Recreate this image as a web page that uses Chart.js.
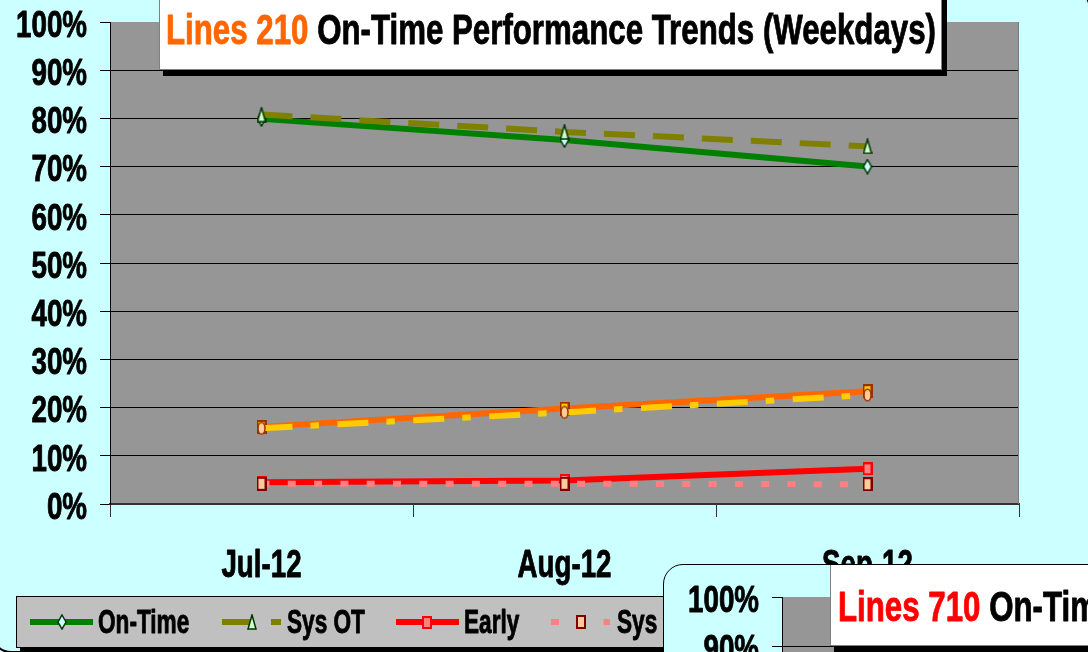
<!DOCTYPE html>
<html><head><meta charset="utf-8">
<script src="https://cdn.jsdelivr.net/npm/chart.js@4.4.1/dist/chart.umd.min.js"></script>
<style>
html,body{margin:0;padding:0;width:1088px;height:652px;overflow:hidden;background:#CCFFFF;}
#frame1{position:absolute;left:-9px;top:-11px;width:1096px;height:660px;border:2px solid #000;border-radius:20px;background:#CCFFFF;}
#c1{position:absolute;left:0;top:0;}
#frame2{position:absolute;left:663px;top:564px;width:1100px;height:700px;border:1px solid #000;border-top-left-radius:20px;background:#CCFFFF;overflow:hidden;}
#c2{position:absolute;left:0;top:0;}
</style></head><body>
<div id="frame1"></div>
<canvas id="c1" width="1088" height="652" style="width:1088px;height:652px"></canvas>
<div id="frame2"><canvas id="c2" width="1100" height="700" style="width:1100px;height:700px"></canvas></div>
<script>
// ---- data ----
const categories = ['Jul-12', 'Aug-12', 'Sep-12'];
const seriesNames = ['On-Time', 'Sys OT', 'Early', 'Sys Early', 'Late', 'Sys Late'];
const onTime   = [79.9, 75.5, 70.0];
const sysOT    = [80.8, 77.2, 74.2];
const early    = [4.5, 4.9, 7.3];
const sysEarly = [4.2, 4.2, 4.1];
const late     = [16.0, 19.8, 23.4];
const sysLate  = [15.7, 19.0, 22.6];
const yTicks = [0, 10, 20, 30, 40, 50, 60, 70, 80, 90, 100];
const yTickLabel = v => v + '%';
const title1Lead = 'Lines 210';
const title2Lead = 'Lines 710';
const titleRest = ' On-Time Performance Trends (Weekdays)';

// ---- helpers ----
const FONT = '"Liberation Sans", Arial, Helvetica, sans-serif';
function drawText(ctx, txt, x, y, size, sx, align, color) {
  ctx.save();
  ctx.font = 'bold ' + size + 'px ' + FONT;
  ctx.fillStyle = color || '#000';
  ctx.strokeStyle = color || '#000';
  ctx.lineWidth = 0.9;
  ctx.lineJoin = 'round';
  ctx.textBaseline = 'alphabetic';
  ctx.textAlign = 'left';
  const w = ctx.measureText(txt).width * sx;
  const x0 = align === 'right' ? x - w : align === 'center' ? x - w / 2 : x;
  ctx.translate(x0, y);
  ctx.scale(sx, 1);
  ctx.fillText(txt, 0, 0);
  ctx.strokeText(txt, 0, 0);
  ctx.restore();
  return w;
}
function marker(w, h, fn) {
  const c = document.createElement('canvas');
  c.width = w; c.height = h;
  fn(c.getContext('2d'));
  return c;
}
const mkDiamond = marker(10, 16, g => {
  g.beginPath(); g.moveTo(5, 1); g.lineTo(9, 8); g.lineTo(5, 15); g.lineTo(1, 8); g.closePath();
  g.fillStyle = '#CCFFFF'; g.fill(); g.strokeStyle = '#003300'; g.lineWidth = 1.5; g.stroke();
});
const mkTriangle = marker(10, 16, g => {
  g.beginPath(); g.moveTo(5, 1); g.lineTo(9, 15); g.lineTo(1, 15); g.closePath();
  g.fillStyle = '#CCFFCC'; g.fill(); g.strokeStyle = '#003300'; g.lineWidth = 1.5; g.stroke();
});
function mkSquare(w, h, fill, stroke) {
  return marker(w, h, g => {
    g.fillStyle = fill; g.fillRect(1, 1, w - 2, h - 2);
    g.strokeStyle = stroke; g.lineWidth = 2; g.strokeRect(1, 1, w - 2, h - 2);
  });
}
const mkEarly = mkSquare(10, 13, '#FF8080', '#FF0000');
const mkSysEarly = mkSquare(10, 14, '#FFCC99', '#800000');
const mkLate = mkSquare(10, 14, '#FFCC00', '#993300');
const mkSysLate = marker(9, 14, g => {
  g.beginPath(); g.ellipse(4.5, 7, 3.5, 5.8, 0, 0, Math.PI * 2);
  g.fillStyle = '#FFCC99'; g.fill(); g.strokeStyle = '#993300'; g.lineWidth = 1.5; g.stroke();
});

const styles = [
  {color: '#008000', width: 6, dash: [], pt: mkDiamond, order: 6},
  {color: '#808000', width: 6, dash: [31, 18], pt: mkTriangle, order: 5},
  {color: '#FF0000', width: 6, dash: [], pt: mkEarly, order: 2},
  {color: '#FF8080', width: 6, dash: [8, 18.3], pt: mkSysEarly, order: 1},
  {color: '#FF6600', width: 6, dash: [], pt: mkLate, order: 4},
  {color: '#FFCC00', width: 6, dash: [31, 18, 8.5, 18.5], pt: mkSysLate, order: 3}
];
const seriesData = [onTime, sysOT, early, sysEarly, late, sysLate];

const decor = {
  id: 'decor',
  beforeDraw(chart) {
    const a = chart.chartArea, ctx = chart.ctx;
    ctx.save(); ctx.fillStyle = '#969696';
    ctx.fillRect(a.left, a.top, a.right - a.left, a.bottom - a.top);
    ctx.restore();
  },
  afterDraw(chart, args, o) {
    const a = chart.chartArea, ctx = chart.ctx;
    const ys = chart.scales.y, xs = chart.scales.x;
    // right plot border
    ctx.save(); ctx.strokeStyle = '#7a7a7a'; ctx.lineWidth = 1;
    ctx.beginPath(); ctx.moveTo(a.right - 0.5, a.top); ctx.lineTo(a.right - 0.5, a.bottom); ctx.stroke(); ctx.restore();
    // y labels
    yTicks.forEach(v => {
      const y = ys.getPixelForValue(v);
      drawText(ctx, yTickLabel(v), a.left - 23, y + 14.7, 37.5, 0.74, 'right', '#000');
    });
    // x labels
    categories.forEach((c, i) => {
      drawText(ctx, c, xs.getPixelForValue(i), a.bottom + 73, 38.5, 0.72, 'center', '#000');
    });
    // title box
    const bx = a.left + o.boxDx, bb = a.top + o.boxDy;
    ctx.save();
    ctx.fillStyle = '#000'; ctx.fillRect(bx + 4, -30, o.boxW + 1, bb + 36);
    ctx.fillStyle = '#fff'; ctx.fillRect(bx, -30, o.boxW, bb + 30);
    ctx.strokeStyle = '#808080'; ctx.lineWidth = 1; ctx.strokeRect(bx + 0.5, -30, o.boxW - 1, bb + 29.5);
    ctx.restore();
    ctx.save(); ctx.font = 'bold 43px ' + FONT;
    const full = ctx.measureText(title1Lead + titleRest).width; ctx.restore();
    const sx = 770 / full;
    const tx = a.left + o.textDx, ty = a.top + o.textDy;
    const w1 = drawText(ctx, o.lead, tx, ty, 43, sx, 'left', o.leadColor);
    drawText(ctx, titleRest, tx + w1, ty, 43, sx, 'left', '#000');
    // legend
    if (o.legend) {
      ctx.save();
      ctx.fillStyle = '#000'; ctx.fillRect(20, 600, 700, 60);
      ctx.fillStyle = '#C0C0C0'; ctx.fillRect(16, 596, 700, 52);
      ctx.strokeStyle = '#000'; ctx.lineWidth = 1; ctx.strokeRect(16.5, 596.5, 700, 51);
      ctx.restore();
      const items = [
        {x1: 30, x2: 93, mx: 62, tx: 98},
        {x1: 222, x2: 281, mx: 252, tx: 287},
        {x1: 396, x2: 459, mx: 427, tx: 464},
        {x1: 551, x2: 610, mx: 580.5, tx: 617},
        {x1: 760, x2: 823, mx: 791, tx: 828},
        {x1: 900, x2: 959, mx: 930, tx: 965}
      ];
      items.forEach((it, i) => {
        const s = styles[i], ly = 622;
        ctx.save(); ctx.strokeStyle = s.color; ctx.lineWidth = s.width; ctx.setLineDash(s.dash);
        ctx.lineCap = 'butt'; ctx.beginPath(); ctx.moveTo(it.x1, ly); ctx.lineTo(it.x2, ly); ctx.stroke(); ctx.restore();
        ctx.drawImage(s.pt, Math.round(it.mx - s.pt.width / 2), Math.round(ly - s.pt.height / 2));
        drawText(ctx, seriesNames[i], it.tx, 633, 33.5, 0.675, 'left', '#000');
      });
    }
  }
};

function makeChart(id, datasets, pad, yW, xH, decorOpts) {
  return new Chart(document.getElementById(id), {
    type: 'line',
    data: {labels: categories, datasets: datasets},
    plugins: [decor],
    options: {
      responsive: false, animation: false, events: [],
      layout: {padding: pad},
      plugins: {legend: {display: false}, tooltip: {enabled: false}, title: {display: false}, decor: decorOpts},
      scales: {
        x: {
          type: 'category', offset: true,
          ticks: {display: false},
          grid: {display: true, drawOnChartArea: false, drawTicks: true, tickLength: 13, offset: true, color: '#333', lineWidth: 1},
          border: {display: true, color: '#333', width: 2},
          afterFit: s => { s.height = xH; }
        },
        y: {
          min: 0, max: 100,
          afterBuildTicks: s => { s.ticks = yTicks.map(v => ({value: v})); },
          ticks: {display: false},
          grid: {
            drawTicks: true, tickLength: 10, lineWidth: 1,
            color: c => (c.tick && c.tick.value === 100) ? 'rgba(0,0,0,0)' : '#000',
            tickColor: '#000'
          },
          border: {display: true, color: '#000', width: 1},
          afterFit: s => { s.width = yW; }
        }
      }
    }
  });
}

const datasets1 = seriesData.map((d, i) => ({
  label: seriesNames[i], data: d,
  borderColor: styles[i].color, backgroundColor: styles[i].color,
  borderWidth: styles[i].width, borderDash: styles[i].dash, borderCapStyle: 'butt',
  pointStyle: styles[i].pt, pointRadius: 5, tension: 0, fill: false, order: styles[i].order
}));

makeChart('c1', datasets1, {top: 22, right: 69, left: 0, bottom: 0}, 110, 148,
  {lead: title1Lead, leadColor: '#FF6600', boxDx: 49, boxDy: 48, boxW: 783, textDx: 56, textDy: 22, legend: true});
makeChart('c2', [], {top: 32, right: 73, left: 0, bottom: 0}, 118, 174,
  {lead: title2Lead, leadColor: '#FF0000', boxDx: 48, boxDy: 49, boxW: 1200, textDx: 56, textDy: 24, legend: false});
</script>
</body></html>
